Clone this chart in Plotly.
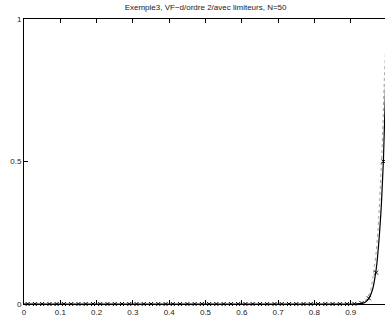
import plotly.graph_objects as go

# numerical solution at cell centres (N=50)
x_cells = [0.01, 0.03, 0.05, 0.07, 0.09, 0.11, 0.13, 0.15, 0.17, 0.19,
           0.21, 0.23, 0.25, 0.27, 0.29, 0.31, 0.33, 0.35, 0.37, 0.39,
           0.41, 0.43, 0.45, 0.47, 0.49, 0.51, 0.53, 0.55, 0.57, 0.59,
           0.61, 0.63, 0.65, 0.67, 0.69, 0.71, 0.73, 0.75, 0.77, 0.79,
           0.81, 0.83, 0.85, 0.87, 0.89, 0.91, 0.93, 0.95, 0.97, 0.99]
u_num = [0, 0, 0, 0, 0, 0, 0, 0, 0, 0,
         0, 0, 0, 0, 0, 0, 0, 0, 0, 0,
         0, 0, 0, 0, 0, 0, 0, 0, 0, 0,
         0, 0, 0, 0, 0, 0, 0, 0, 0, 0,
         0, 0, 0, 0, 0, 0.0005, 0.003, 0.02, 0.11, 0.5]

# solid curve
x_solid = [0, 0.90, 0.92, 0.93, 0.94, 0.95, 0.96, 0.97, 0.975, 0.98, 0.985, 0.99, 0.995, 1.0]
u_solid = [0, 0, 0.001, 0.002, 0.006, 0.02, 0.05, 0.12, 0.18, 0.26, 0.36, 0.5, 0.71, 1.0]

# dotted curve
x_dot = [0, 0.92, 0.935, 0.945, 0.955, 0.962, 0.97, 0.977, 0.983, 0.988, 0.993, 1.0]
u_dot = [0, 0, 0.005, 0.02, 0.05, 0.1, 0.18, 0.3, 0.45, 0.6, 0.8, 1.0]

x_ticks = [0, 0.1, 0.2, 0.3, 0.4, 0.5, 0.6, 0.7, 0.8, 0.9, 1]
x_ticklabels = ["0", "0.1", "0.2", "0.3", "0.4", "0.5", "0.6", "0.7", "0.8", "0.9", "1"]
y_ticks = [0, 0.5, 1]
y_ticklabels = ["0", "0.5", "1"]

title = "Exemple3, VF\u2212d/ordre 2/avec limiteurs, N=50"

fig = go.Figure()
fig.add_trace(go.Scatter(x=x_dot, y=u_dot, mode="lines",
                         line=dict(color="#a0a0a0", width=1, dash="dot", shape="spline")))
fig.add_trace(go.Scatter(x=x_solid, y=u_solid, mode="lines",
                         line=dict(color="black", width=1.2, shape="spline")))
fig.add_trace(go.Scatter(x=x_cells, y=u_num, mode="markers", cliponaxis=False,
                         marker=dict(symbol="x-thin", size=4, color="black",
                                     line=dict(width=1, color="black"))))

font = dict(family="Liberation Sans, Arial, sans-serif", size=8, color="#222")
fig.update_layout(
    width=385, height=318,
    margin=dict(l=24, r=0, t=19, b=14),
    paper_bgcolor="white", plot_bgcolor="white",
    showlegend=False,
    font=font,
    title=dict(text=title, x=0.534, xanchor="center", y=0.985, yanchor="top",
               font=dict(family="Liberation Sans, Arial, sans-serif", size=8, color="#222")),
    xaxis=dict(range=[0, 0.9945], tickvals=x_ticks, ticktext=x_ticklabels,
               ticks="inside", ticklen=4, tickwidth=1, tickcolor="black",
               showline=True, linecolor="black", linewidth=1, mirror="ticks",
               showgrid=False, zeroline=False, tickfont=font, automargin=False),
    yaxis=dict(range=[0, 1], tickvals=y_ticks, ticktext=y_ticklabels,
               ticks="inside", ticklen=4, tickwidth=1, tickcolor="black",
               showline=True, linecolor="black", linewidth=1, mirror=False,
               showgrid=False, zeroline=False, tickfont=font, automargin=False),
)
fig.write_html("out.html", config={"displayModeBar": False},
               post_script="document.body.style.margin='0';document.body.style.overflow='hidden';")
